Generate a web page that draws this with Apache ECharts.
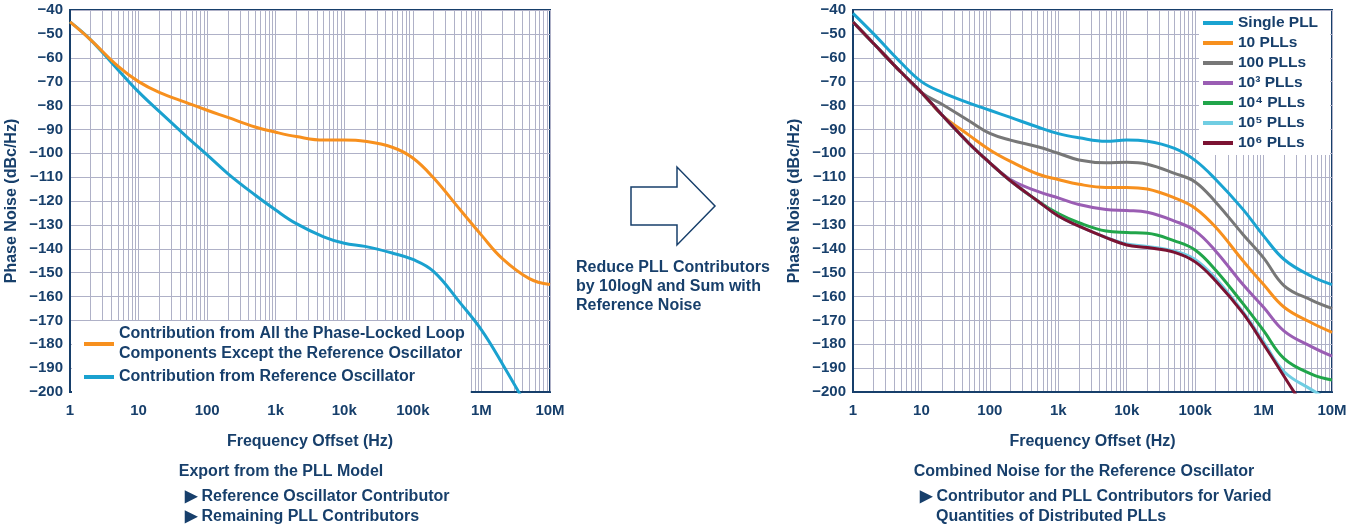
<!DOCTYPE html>
<html>
<head>
<meta charset="utf-8">
<title>Phase Noise – Distributed PLLs</title>
<script src="https://cdn.jsdelivr.net/npm/echarts@6/dist/echarts.min.js"></script>
<style>
  html, body { margin: 0; padding: 0; background: #fff; }
  #main { width: 1365px; height: 527px; }
</style>
</head>
<body>
<div id="main"></div>
<script>
const freqs = [1, 2, 5, 10, 20, 50, 100, 200, 500, 1e3, 2e3, 5e3, 1e4, 2e4, 5e4, 1e5, 2e5, 5e5, 1e6, 2e6, 5e6, 1e7];

// left panel: export from the PLL model (dBc/Hz)
const pllContrib = [-45, -52.5, -63.5, -70, -74.5, -78.8, -82, -85, -89, -91.2, -93, -94.5, -94.5, -95, -97.5, -102, -110.3, -124, -134.3, -144, -152.5, -155];
const refContrib = [-45, -52.5, -65, -74.3, -82.5, -93, -100.7, -108.5, -117.5, -123.8, -129.5, -135, -137.7, -139, -141.8, -144.5, -149.5, -163, -174, -188, -208, -225];

// right panel: combined noise for N distributed PLLs (dBc/Hz)
const single = [-41.4, -50, -62, -70, -74.5, -79, -82, -85, -89, -91.8, -93.5, -95, -94.5, -95, -98, -103, -111, -123.5, -134.6, -144.5, -151.5, -155];
const plls10 = [-45, -54, -66, -74.5, -84, -92.5, -98.6, -103.4, -108.7, -111, -113, -114.3, -114.3, -115, -118.7, -123, -131, -145, -155, -164.5, -171, -175];
const plls100 = [-45, -54, -66, -74.5, -79.5, -86.5, -91.7, -94.5, -97.3, -100, -102.8, -104, -103.8, -104.6, -108.4, -112, -120.5, -134, -143.8, -155.5, -161.5, -165];
const plls1e3 = [-45, -54, -66, -74.5, -84, -96, -104, -111, -116, -118.7, -121.5, -123.6, -124, -124.7, -128.4, -132.5, -141, -155, -164.5, -174.5, -181, -185];
const plls1e4 = [-45, -54, -66, -74.5, -84, -96, -104, -111.5, -120, -125.3, -129.1, -132.6, -133.2, -133.5, -136.7, -140.5, -149, -163, -174.3, -186, -192.5, -195];
const plls1e5 = [-45, -54, -66, -74.5, -84, -96, -104, -111.5, -120, -126.3, -130.5, -135.3, -138, -139, -141, -144.5, -152.5, -166.5, -179, -191.5, -199, -204];
const plls1e6 = [-45, -54, -66, -74.5, -84, -96, -104, -111.5, -120, -126.3, -130.5, -135.3, -138.4, -139.5, -141.5, -145.5, -153.5, -167, -180, -193.5, -212, -230];

// axis labels
const xTickLabels = ['1', '10', '100', '1k', '10k', '100k', '1M', '10M'];
const leftNames = ['Contribution from All the Phase-Locked Loop\nComponents Except the Reference Oscillator', 'Contribution from Reference Oscillator'];
const rightNames = ['Single PLL', '10 PLLs', '100 PLLs', '10³ PLLs', '10⁴ PLLs', '10⁵ PLLs', '10⁶ PLLs'];

const NAVY = '#173f6b';
const GRID = '#afb1c7';
const FONT = "'Liberation Sans', Arial, sans-serif";

const chart = echarts.init(document.getElementById('main'), null, { renderer: 'canvas' });

function pairs(vals) {
  return freqs.map((f, i) => [f, vals[i]]);
}

// decade ticks + log grid lines at 1..9 of each decade
const decades = [];
const logGrid = [];
for (let k = 0; k <= 7; k++) {
  decades.push(Math.pow(10, k));
  for (let m = 1; m <= 9; m++) {
    if (k === 7 && m > 1) break;
    logGrid.push(m * Math.pow(10, k));
  }
}

function xAxisFor(gridIndex) {
  return {
    gridIndex: gridIndex,
    type: 'log',
    logBase: 10,
    min: 1,
    max: 1e7,
    name: 'Frequency Offset (Hz)',
    nameLocation: 'middle',
    nameGap: 42,
    nameTextStyle: { color: NAVY, fontSize: 16, fontWeight: 'bold', fontFamily: FONT },
    axisLine: { show: true, lineStyle: { color: NAVY, width: 2 } },
    axisTick: { show: false, customValues: logGrid },
    axisLabel: {
      color: NAVY, fontSize: 15, fontWeight: 'bold', fontFamily: FONT, margin: 11,
      customValues: decades,
      formatter: v => xTickLabels[Math.round(Math.log10(v))] || ''
    },
    splitLine: { show: true, lineStyle: { color: GRID, width: 1 } }
  };
}

function yAxisFor(gridIndex) {
  return {
    gridIndex: gridIndex,
    type: 'value',
    min: -200,
    max: -40,
    interval: 10,
    name: 'Phase Noise (dBc/Hz)',
    nameLocation: 'middle',
    nameGap: 50,
    nameTextStyle: { color: NAVY, fontSize: 16, fontWeight: 'bold', fontFamily: FONT },
    axisLine: { show: true, lineStyle: { color: NAVY, width: 2 } },
    axisTick: { show: false },
    axisLabel: {
      color: NAVY, fontSize: 15, fontWeight: 'bold', fontFamily: FONT, margin: 7,
      formatter: v => String(v).replace('-', '\u2212')
    },
    splitLine: { show: true, lineStyle: { color: GRID, width: 1 } }
  };
}

function curve(name, vals, color, idx) {
  return {
    name: name, type: 'line', xAxisIndex: idx, yAxisIndex: idx, z: 3,
    data: pairs(vals), smooth: 0.4, symbol: 'none',
    lineStyle: { color: color, width: 3 }, itemStyle: { color: color }
  };
}

const legendText = { color: NAVY, fontSize: 16, fontWeight: 'bold', fontFamily: FONT, lineHeight: 20 };

const option = {
  animation: false,
  backgroundColor: '#fff',
  grid: [
    { left: 70, top: 10, width: 480, height: 382, show: true, borderColor: NAVY, borderWidth: 2, backgroundColor: 'transparent' },
    { left: 853, top: 10, width: 479, height: 382, show: true, borderColor: NAVY, borderWidth: 2, backgroundColor: 'transparent' }
  ],
  xAxis: [xAxisFor(0), xAxisFor(1)],
  yAxis: [yAxisFor(0), yAxisFor(1)],
  legend: [
    {
      data: leftNames, orient: 'vertical', left: 72, top: 321, z: 6,
      backgroundColor: '#fff', padding: [3, 6, 6, 12], itemGap: 3,
      icon: 'rect', itemWidth: 30, itemHeight: 4,
      textStyle: legendText, selectedMode: false
    },
    {
      data: rightNames, orient: 'vertical', left: 1199, top: 11, z: 6,
      backgroundColor: '#fff', padding: [4, 12, 4, 4], itemGap: 4,
      icon: 'rect', itemWidth: 30, itemHeight: 4,
      textStyle: Object.assign({}, legendText, { fontSize: 15.5, lineHeight: 15 }), selectedMode: false
    }
  ],
  series: [
    curve(leftNames[1], refContrib, '#1aa1cf', 0),
    curve(leftNames[0], pllContrib, '#f7901e', 0),
    curve(rightNames[0], single, '#1aa3d1', 1),
    curve(rightNames[1], plls10, '#f7901e', 1),
    curve(rightNames[2], plls100, '#777777', 1),
    curve(rightNames[3], plls1e3, '#9a5db3', 1),
    curve(rightNames[4], plls1e4, '#21a54a', 1),
    curve(rightNames[5], plls1e5, '#70cde2', 1),
    curve(rightNames[6], plls1e6, '#7b1232', 1)
  ],
  graphic: [
    // arrow between the panels
    {
      type: 'polygon', z: 10,
      shape: { points: [[631, 187], [677, 187], [677, 167], [715, 206], [677, 245], [677, 225], [631, 225]] },
      style: { fill: '#fff', stroke: NAVY, lineWidth: 1.5 }
    },
    {
      type: 'text', x: 576, y: 258, z: 10,
      style: {
        text: 'Reduce PLL Contributors\nby 10logN and Sum with\nReference Noise',
        fill: NAVY, font: 'bold 16px ' + FONT, lineHeight: 19
      }
    },
    // captions under the left panel
    {
      type: 'text', x: 281, y: 472, z: 10,
      style: { text: 'Export from the PLL Model', fill: NAVY, font: 'bold 16px ' + FONT, align: 'center', verticalAlign: 'middle' }
    },
    {
      type: 'text', x: 185, y: 497, z: 10,
      style: { text: '\u25B6 Reference Oscillator Contributor', fill: NAVY, font: 'bold 16px ' + FONT, verticalAlign: 'middle' }
    },
    {
      type: 'text', x: 185, y: 517, z: 10,
      style: { text: '\u25B6 Remaining PLL Contributors', fill: NAVY, font: 'bold 16px ' + FONT, verticalAlign: 'middle' }
    },
    // captions under the right panel
    {
      type: 'text', x: 1084, y: 472, z: 10,
      style: { text: 'Combined Noise for the Reference Oscillator', fill: NAVY, font: 'bold 16px ' + FONT, align: 'center', verticalAlign: 'middle' }
    },
    {
      type: 'text', x: 920, y: 497, z: 10,
      style: { text: '\u25B6 Contributor and PLL Contributors for Varied', fill: NAVY, font: 'bold 16px ' + FONT, verticalAlign: 'middle' }
    },
    {
      type: 'text', x: 936, y: 517, z: 10,
      style: { text: 'Quantities of Distributed PLLs', fill: NAVY, font: 'bold 16px ' + FONT, verticalAlign: 'middle' }
    }
  ]
};

chart.setOption(option);
</script>
</body>
</html>
